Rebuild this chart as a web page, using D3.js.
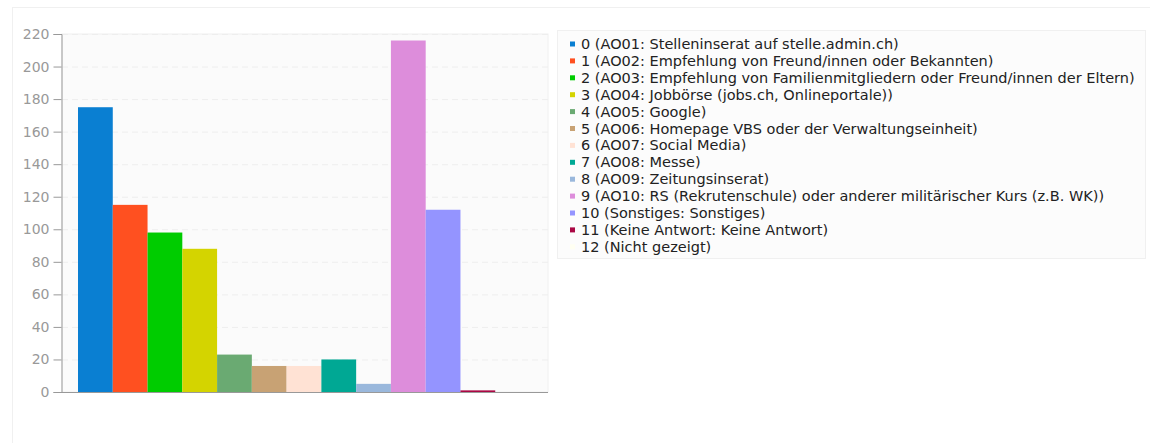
<!DOCTYPE html>
<html>
<head>
<meta charset="utf-8">
<script src="https://cdn.jsdelivr.net/npm/d3@7"></script>
<style>
  body { margin: 0; background: #fff; }
  svg { display: block; font-family: "DejaVu Sans", sans-serif; }
</style>
</head>
<body>
<svg width="1150" height="443"></svg>
<script>
// answer codes and counts
var categories = ["0", "1", "2", "3", "4", "5", "6", "7", "8", "9", "10", "11", "12"];
var values = [175, 115, 98, 88, 23, 16, 16, 20, 5, 216, 112, 1, 0];
var labels = [
  "0 (AO01: Stelleninserat auf stelle.admin.ch)",
  "1 (AO02: Empfehlung von Freund/innen oder Bekannten)",
  "2 (AO03: Empfehlung von Familienmitgliedern oder Freund/innen der Eltern)",
  "3 (AO04: Jobbörse (jobs.ch, Onlineportale))",
  "4 (AO05: Google)",
  "5 (AO06: Homepage VBS oder der Verwaltungseinheit)",
  "6 (AO07: Social Media)",
  "7 (AO08: Messe)",
  "8 (AO09: Zeitungsinserat)",
  "9 (AO10: RS (Rekrutenschule) oder anderer militärischer Kurs (z.B. WK))",
  "10 (Sonstiges: Sonstiges)",
  "11 (Keine Antwort: Keine Antwort)",
  "12 (Nicht gezeigt)"
];
var colors = ["#0a7fd2", "#ff5020", "#00cc00", "#d4d400", "#6aaa72", "#c8a274",
  "#ffe2d4", "#00a894", "#9ab8dc", "#dd8ddb", "#9494ff", "#aa0844", "#fffff2"];
var yTicks = [0, 20, 40, 60, 80, 100, 120, 140, 160, 180, 200, 220];

var svg = d3.select('svg');

// faint outer panel
svg.append('rect').attr('x', 12.5).attr('y', 7.5).attr('width', 1150).attr('height', 450)
  .attr('fill', 'none').attr('stroke', '#f0f0f0');

var plotL = 62, plotR = 548, plotT = 34, plotB = 392;

svg.append('rect').attr('x', plotL).attr('y', plotT).attr('width', plotR - plotL).attr('height', plotB - plotT)
  .attr('fill', '#fbfbfb').attr('stroke', '#f0f0f0');

var x = d3.scaleBand().domain(categories).range([78, 530]).padding(0);
var y = d3.scaleLinear().domain([0, 220]).range([plotB, plotT]);

// grid
svg.append('g').selectAll('line').data(yTicks.slice(1)).join('line')
  .attr('x1', plotL).attr('x2', plotR)
  .attr('y1', function(d) { return y(d) + 0.5; }).attr('y2', function(d) { return y(d) + 0.5; })
  .attr('stroke', '#eeeeee').attr('stroke-dasharray', '6,4');

// bars
svg.append('g').selectAll('rect').data(values).join('rect')
  .attr('x', function(d, i) { return x(categories[i]); })
  .attr('y', function(d) { return y(d); })
  .attr('width', x.bandwidth())
  .attr('height', function(d) { return plotB - y(d); })
  .attr('fill', function(d, i) { return colors[i]; });

// y axis
var yAxis = svg.append('g').attr('transform', 'translate(' + (plotL - 0.5) + ',0)')
  .call(d3.axisLeft(y).tickValues(yTicks).tickSize(8).tickPadding(4));
yAxis.select('.domain').attr('stroke', '#999');
yAxis.selectAll('.tick line').attr('stroke', '#999');
yAxis.selectAll('.tick text').attr('fill', '#999').attr('font-size', 14)
  .attr('font-family', '"DejaVu Sans", sans-serif');

// x baseline
svg.append('line').attr('x1', plotL).attr('x2', plotR).attr('y1', plotB + 0.5).attr('y2', plotB + 0.5)
  .attr('stroke', '#999');

// legend
svg.append('rect').attr('x', 557.5).attr('y', 30.5).attr('width', 588).attr('height', 228)
  .attr('fill', '#fcfcfc').attr('stroke', '#f0f0f0');

var leg = svg.append('g').selectAll('g').data(labels).join('g')
  .attr('transform', function(d, i) { return 'translate(570,' + (44 + i * 16.9) + ')'; });
leg.append('rect').attr('x', 0).attr('y', -2.5).attr('width', 5).attr('height', 5)
  .attr('fill', function(d, i) { return colors[i]; });
leg.append('text').attr('x', 11).attr('dy', '0.35em')
  .attr('font-size', 14.5).attr('fill', '#222')
  .text(function(d) { return d; });
</script>
</body>
</html>
